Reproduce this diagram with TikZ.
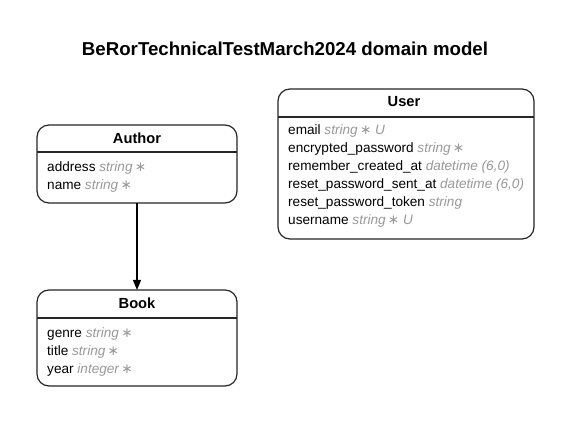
\documentclass[tikz,border=0pt]{standalone}
\usepackage{fontspec}
\setmainfont{Liberation Sans}
\newfontfamily\symfont{DejaVu Sans}
\usetikzlibrary{arrows.meta}
\definecolor{typegray}{HTML}{999999}
\newcommand{\ty}[1]{{\color{typegray}\itshape #1}}
\newcommand{\st}{{\color{typegray}\symfont\char"2217}}
\tikzset{
  x=1pt, y=-1pt,
  entity/.style={draw=black!85, line width=1.2pt, rounded corners=12pt},
  sep/.style={draw=black!85, line width=1.2pt},
  ttl/.style={font=\fontsize{14.67}{16}\selectfont\bfseries, anchor=center, inner sep=0pt},
  attr/.style={font=\fontsize{13.6}{15}\selectfont, anchor=base west, inner sep=0pt},
  rel/.style={draw=black, line width=1.2pt, -{Triangle[length=10pt,width=8pt]}}
}
\begin{document}
\begin{tikzpicture}
\useasboundingbox[fill=white] (0,0) rectangle (571,425);
\node[font=\fontsize{18.67}{20}\selectfont\bfseries, inner sep=0pt] (title) at (285,49) {BeRorTechnicalTestMarch2024 domain model};

% Author
\draw[entity] (37,125) rectangle (237,203);
\draw[sep] (37,152) -- (237,152);
\node[ttl] (authorT) at (137,138) {Author};
\node[attr] (a1) at (47,172) {address \ty{string}\,\st};
\node[attr] (a2) at (47,190) {name \ty{string}\,\st};
\coordinate (authorB) at (137,203);

% Book
\draw[entity] (37,290) rectangle (237,386);
\draw[sep] (37,318) -- (237,318);
\node[ttl] (bookT) at (137,303) {Book};
\node[attr] (b1) at (47,337) {genre \ty{string}\,\st};
\node[attr] (b2) at (47,355) {title \ty{string}\,\st};
\node[attr] (b3) at (47,373) {year \ty{integer}\,\st};
\coordinate (bookTop) at (137,290);

% User
\draw[entity] (278,89) rectangle (534,239);
\draw[sep] (278,117) -- (534,117);
\node[ttl] (userT) at (404,102) {User};
\node[attr] (u1) at (288,135) {email \ty{string}\,\st\ \ty{U}};
\node[attr] (u2) at (288,153) {encrypted\_password \ty{string}\,\st};
\node[attr] (u3) at (288,171) {remember\_created\_at \ty{datetime (6,0)}};
\node[attr] (u4) at (288,189) {reset\_password\_sent\_at \ty{datetime (6,0)}};
\node[attr] (u5) at (288,207) {reset\_password\_token \ty{string}};
\node[attr] (u6) at (288,225) {username \ty{string}\,\st\ \ty{U}};

\draw[rel] (authorB) -- (bookTop);
\end{tikzpicture}
\end{document}
